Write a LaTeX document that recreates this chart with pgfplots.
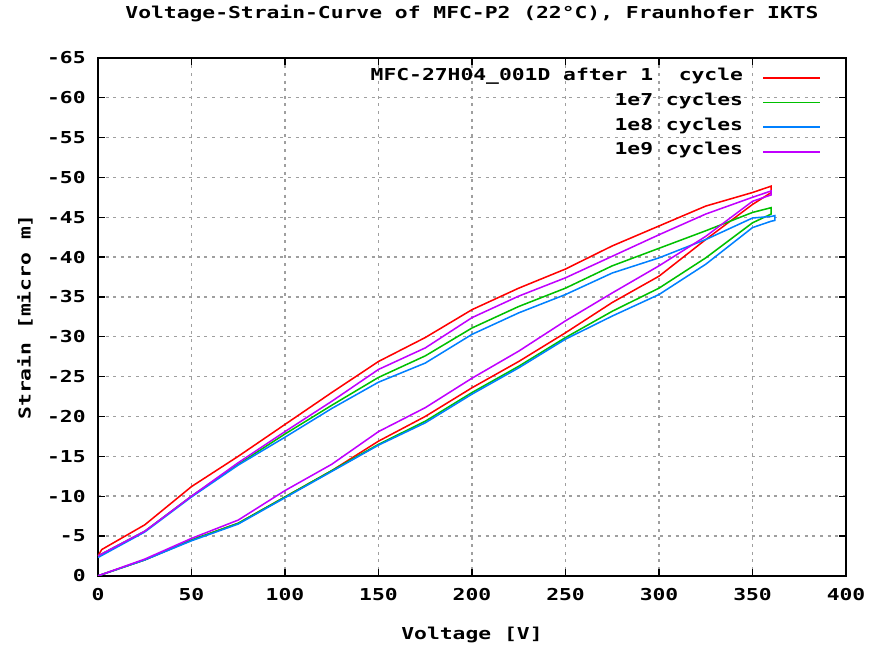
\documentclass[border=0pt]{standalone}
\usepackage{fontspec}
\usepackage{pgfplots}
\pgfplotsset{compat=1.18}
\newfontfamily\gfont[FakeStretch=1.3]{DejaVu Sans Mono}

\definecolor{gred}{RGB}{255,0,0}
\definecolor{ggreen}{RGB}{0,192,0}
\definecolor{gblue}{RGB}{0,128,255}
\definecolor{gpurple}{RGB}{192,0,255}

\begin{document}
\begin{tikzpicture}
\fontsize{12.3pt}{14pt}\gfont\bfseries
\begin{axis}[
    name=main,
    scale only axis,
    width=561pt, height=388.5pt,
    xmin=0, xmax=400,
    ymin=-65, ymax=0,
    y dir=reverse,
    xtick={0,50,...,400},
    ytick={-65,-60,...,0},
    yticklabels={-65,-60,-55,-50,-45,-40,-35,-30,-25,-20,-15,-10,-5,0},
    xticklabel style={font=\fontsize{12.3pt}{14pt}\gfont\bfseries, yshift=-5pt},
    yticklabel style={font=\fontsize{12.3pt}{14pt}\gfont\bfseries, xshift=-5pt},
    /pgf/number format/assume math mode=true,
    tick align=inside,
    tick pos=both,
    major tick length=5pt,
    axis line style={line width=1.1pt},
    every tick/.style={black, line width=0.9pt},
    grid=major,
    major grid style={gray!75, line width=1pt, dash pattern=on 2.2pt off 3.5pt},
    title={Voltage-Strain-Curve of MFC-P2 (22\textdegree C), Fraunhofer IKTS},
    title style={at={(axis description cs:0.5,1.0695)}, anchor=center},
    xlabel={Voltage [V]},
    xlabel style={at={(axis description cs:0.5,-0.114)}, anchor=center},
    ylabel={Strain [micro m]},
    ylabel style={at={(axis description cs:-0.0976,0.5)}, anchor=center},
    legend plot pos=right,
    legend cell align=right,
    legend style={draw=none, fill=none, at={(axis cs:389,-64.4)}, anchor=north east,
        nodes={text height=9.5pt, text depth=5pt},
        font=\fontsize{12.3pt}{14pt}\gfont\bfseries},
    legend image code/.code={\draw[#1] (0pt,0pt) -- (43pt,0pt);},
    every axis plot/.append style={line width=1.15pt},
]
\addplot[gred] coordinates {
(0,0)(25,-2.0)(50,-4.5)(75,-6.6)(100,-9.9)(125,-13.2)(150,-16.9)(175,-20.0)
(200,-23.6)(225,-26.9)(250,-30.5)(275,-34.3)(300,-37.6)(325,-42.2)(350,-46.6)(360,-48.1)
(360,-48.9)(350,-48.1)(325,-46.4)(300,-43.9)(275,-41.4)(250,-38.5)(225,-36.1)(200,-33.4)
(175,-29.9)(150,-26.9)(125,-23.0)(100,-19.0)(75,-15.0)(50,-11.2)(25,-6.4)(2,-3.3)(0,-2.5)};
\addlegendentry{MFC-27H04\_001D after 1\ \ cycle\kern12.5pt}
\addplot[ggreen] coordinates {
(0,0)(25,-2.0)(50,-4.5)(75,-6.6)(100,-9.9)(125,-13.2)(150,-16.5)(175,-19.4)
(200,-23.0)(225,-26.3)(250,-29.9)(275,-33.2)(300,-36.1)(325,-39.9)(350,-44.3)(360,-45.4)
(360,-46.2)(350,-45.6)(325,-43.3)(300,-41.1)(275,-38.9)(250,-36.1)(225,-33.8)(200,-31.1)
(175,-27.6)(150,-24.9)(125,-21.4)(100,-17.8)(75,-14.0)(50,-10.0)(25,-5.6)(0,-2.5)};
\addlegendentry{1e7 cycles\kern12.5pt}
\addplot[gblue] coordinates {
(0,0)(25,-2.0)(50,-4.4)(75,-6.5)(100,-9.8)(125,-13.1)(150,-16.4)(175,-19.2)
(200,-22.8)(225,-26.1)(250,-29.7)(275,-32.6)(300,-35.3)(325,-39.1)(350,-43.7)(360,-44.5)
(362,-44.6)(362,-45.2)
(360,-45.1)(350,-44.9)(325,-42.2)(300,-39.9)(275,-38.0)(250,-35.3)(225,-33.0)(200,-30.3)
(175,-26.7)(150,-24.3)(125,-21.0)(100,-17.4)(75,-13.9)(50,-9.9)(25,-5.5)(0,-2.3)};
\addlegendentry{1e8 cycles\kern12.5pt}
\addplot[gpurple] coordinates {
(0,0)(25,-2.1)(50,-4.7)(75,-7.0)(100,-10.7)(125,-14.0)(150,-18.1)(175,-21.1)
(200,-24.8)(225,-28.2)(250,-32.0)(275,-35.5)(300,-38.9)(325,-42.6)(350,-47.0)(360,-47.8)
(360,-48.3)(350,-47.5)(325,-45.4)(300,-42.8)(275,-40.1)(250,-37.4)(225,-35.1)(200,-32.4)
(175,-28.6)(150,-25.9)(125,-21.9)(100,-18.1)(75,-14.2)(50,-10.0)(25,-5.6)(0,-2.5)};
\addlegendentry{1e9 cycles\kern12.5pt}
\end{axis}
\path ([shift={(-73.5pt,-54pt)}]main.south west) rectangle ([shift={(21pt,42pt)}]main.north east);
\end{tikzpicture}
\end{document}
